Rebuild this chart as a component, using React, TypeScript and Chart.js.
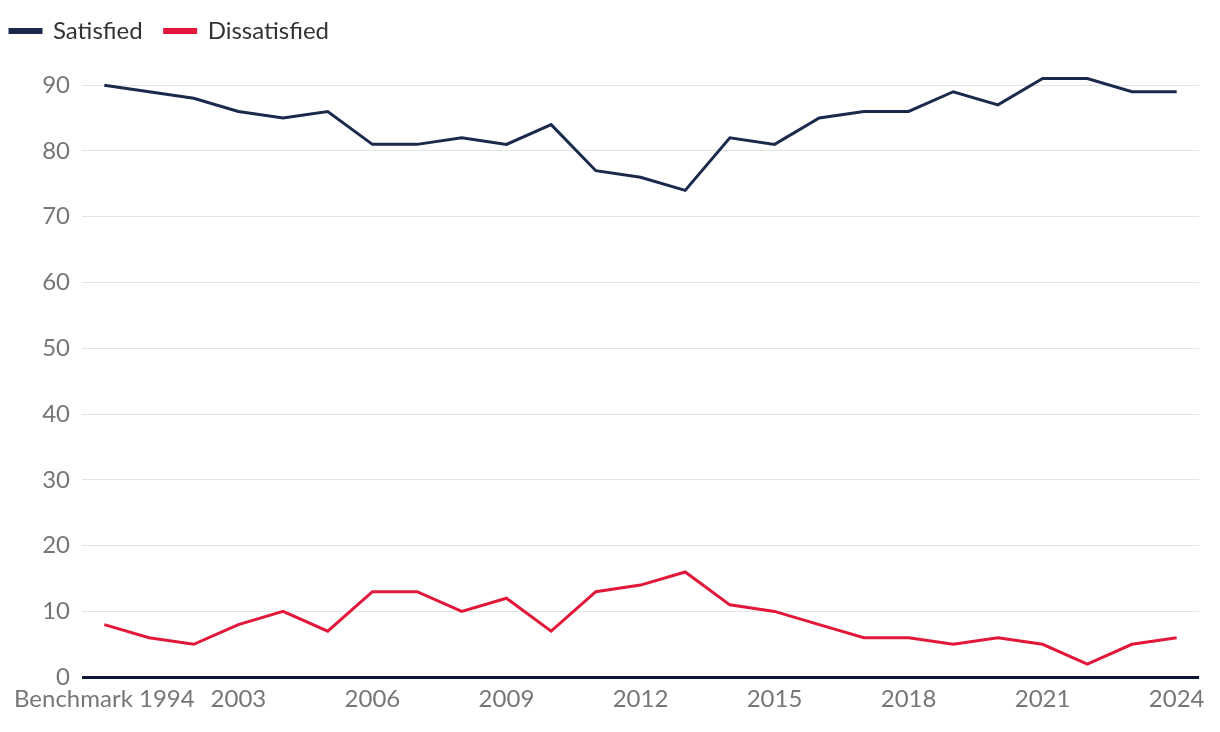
import React, { useEffect, useRef } from "react";
import { Chart, registerables } from "chart.js";

Chart.register(...registerables);

const categories: string[] = [
  "Benchmark 1994", "2001", "2002", "2003", "2004", "2005", "2006", "2007", "2008",
  "2009", "2010", "2011", "2012", "2013", "2014", "2015", "2016", "2017", "2018",
  "2019", "2020", "2021", "2022", "2023", "2024",
];

const satisfied: number[] = [
  90, 89, 88, 86, 85, 86, 81, 81, 82, 81, 84, 77, 76, 74, 82, 81, 85, 86, 86, 89, 87, 91, 91, 89, 89,
];

const dissatisfied: number[] = [
  8, 6, 5, 8, 10, 7, 13, 13, 10, 12, 7, 13, 14, 16, 11, 10, 8, 6, 6, 5, 6, 5, 2, 5, 6,
];

const xTickLabels: string[] = [
  "Benchmark 1994", "2003", "2006", "2009", "2012", "2015", "2018", "2021", "2024",
];

const yTicks: number[] = [0, 10, 20, 30, 40, 50, 60, 70, 80, 90];

const NAVY = "#1b2a4c";
const RED = "#e2183a";
const FONT = "Lato, 'Open Sans', sans-serif";

const legendMargin = {
  id: "legendMargin",
  beforeInit(chart: any) {
    const orig = chart.legend.fit;
    chart.legend.fit = function () {
      orig.bind(chart.legend)();
      this.height += 19;
    };
  },
};

export default function App() {
  const ref = useRef<HTMLCanvasElement | null>(null);

  useEffect(() => {
    document.body.style.margin = "0";
    if (!ref.current) return;
    const chart = new Chart(ref.current, {
      type: "line",
      plugins: [legendMargin],
      data: {
        labels: categories,
        datasets: [
          {
            label: "Satisfied",
            data: satisfied,
            borderColor: NAVY,
            backgroundColor: NAVY,
            borderWidth: 3,
            pointRadius: 0,
            tension: 0,
          },
          {
            label: "Dissatisfied",
            data: dissatisfied,
            borderColor: RED,
            backgroundColor: RED,
            borderWidth: 3,
            pointRadius: 0,
            tension: 0,
          },
        ],
      },
      options: {
        animation: false,
        responsive: false,
        maintainAspectRatio: false,
        layout: { padding: { top: -3, left: -12, right: 21, bottom: 10 } },
        plugins: {
          tooltip: { enabled: false },
          legend: {
            position: "top",
            align: "start",
            labels: {
              boxWidth: 31,
              boxHeight: 3,
              padding: 22,
              color: "#333333",
              font: { family: FONT, size: 24 },
            },
          },
        },
        scales: {
          x: {
            offset: true,
            border: { display: false },
            grid: { display: false, drawTicks: false },
            ticks: {
              autoSkip: false,
              maxRotation: 0,
              color: "#767676",
              padding: 8,
              font: { family: FONT, size: 24 },
              callback: function (_v: any, i: number) {
                const l = categories[i];
                return xTickLabels.includes(l) ? l : "";
              },
            },
          },
          y: {
            min: 0,
            max: 92,
            border: { display: false },
            afterBuildTicks: (scale: any) => {
              scale.ticks = yTicks.map((v) => ({ value: v }));
            },
            afterFit: (scale: any) => {
              scale.width = 94;
            },
            grid: {
              drawTicks: false,
              color: (ctx: any) => (ctx.tick && ctx.tick.value === 0 ? "#0c1733" : "#e3e3e3"),
              lineWidth: (ctx: any) => (ctx.tick && ctx.tick.value === 0 ? 3 : 1),
            },
            ticks: {
              color: "#767676",
              padding: 12,
              font: { family: FONT, size: 24 },
            },
          },
        },
      },
    });
    return () => chart.destroy();
  }, []);

  return (
    <div style={{ width: 1220, height: 732 }}>
      <canvas ref={ref} width={1220} height={732} style={{ display: "block" }} />
    </div>
  );
}
